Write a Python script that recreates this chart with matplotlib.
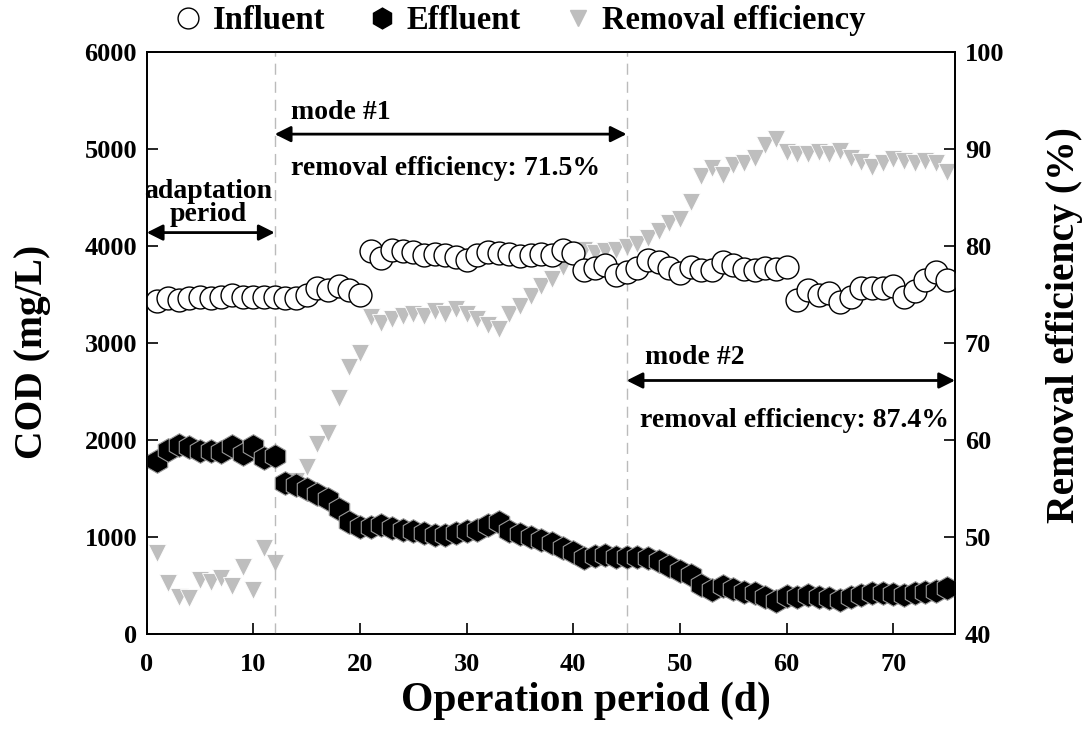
import matplotlib
matplotlib.use("Agg")
import matplotlib.pyplot as plt
from matplotlib.lines import Line2D

plt.rcParams['font.family'] = ['Liberation Serif', 'DejaVu Serif']
plt.rcParams['font.weight'] = 'bold'

days = list(range(1, 76))

influent = [3430, 3460, 3440, 3460, 3470, 3460, 3470, 3490, 3470, 3470,
            3470, 3470, 3460, 3460, 3490, 3560, 3540, 3580, 3540, 3490,
            3940, 3870, 3960, 3940, 3938, 3904, 3915, 3904, 3887, 3853,
            3904, 3938, 3928, 3915, 3894, 3904, 3915, 3904, 3955, 3928,
            3749, 3767, 3801, 3698, 3732, 3767, 3853, 3835, 3767, 3720,
            3780, 3750, 3750, 3830, 3800, 3760, 3750, 3770, 3760, 3780,
            3440, 3540, 3490, 3510, 3420, 3470, 3560, 3560, 3560, 3580,
            3470, 3530, 3650, 3730, 3650]

effluent = [1780, 1890, 1940, 1920, 1880, 1880, 1870, 1930, 1850, 1930,
            1810, 1830, 1550, 1533, 1490, 1440, 1390, 1290, 1150, 1100,
            1100, 1120, 1090, 1070, 1060, 1040, 1020, 1020, 1040, 1060,
            1070, 1120, 1150, 1060, 1030, 1000, 966, 932, 880, 845,
            777, 800, 811, 794, 794, 790, 777, 750, 700, 650,
            605, 502, 450, 490, 460, 433, 416, 381, 340, 390,
            381, 399, 381, 365, 350, 380, 400, 416, 416, 405,
            400, 416, 433, 440, 468]

removal = [48.3, 45.2, 43.8, 43.7, 45.5, 45.3, 45.7, 44.9, 46.9, 44.5,
           48.8, 47.3, 55.2, 55.7, 57.2, 59.6, 60.7, 64.3, 67.5, 68.9,
           72.6, 72.0, 72.4, 72.8, 73.0, 72.8, 73.3, 73.0, 73.5, 73.0,
           72.4, 71.8, 71.4, 73.0, 73.8, 74.8, 75.8, 76.6, 77.8, 79.0,
           79.6, 79.2, 79.4, 79.6, 79.9, 80.2, 80.8, 81.5, 82.3, 82.8,
           84.5, 87.2, 88.0, 87.3, 88.3, 88.5, 89.0, 90.4, 91.0, 89.7,
           89.5, 89.4, 89.7, 89.5, 89.8, 89.0, 88.6, 88.1, 88.5, 88.9,
           88.7, 88.5, 88.7, 88.5, 87.6]

x_ticks = [0, 10, 20, 30, 40, 50, 60, 70]
cod_ticks = [0, 1000, 2000, 3000, 4000, 5000, 6000]
re_ticks = [40, 50, 60, 70, 80, 90, 100]

fig = plt.figure(figsize=(10.87, 7.49), dpi=100)
ax = fig.add_axes([0.135, 0.154, 0.7436, 0.777])
ax2 = ax.twinx()
ax.set_zorder(ax2.get_zorder() + 1)
ax.patch.set_visible(False)

gray = '#BEBEBE'
ax2.plot(days, removal, linestyle='none', marker='v', markersize=13.5,
         markerfacecolor=gray, markeredgecolor='white', markeredgewidth=0.6)
ax.plot(days, influent, linestyle='none', marker='o', markersize=16.5,
        markerfacecolor='white', markeredgecolor='black', markeredgewidth=1.0)
ax.plot(days, effluent, linestyle='none', marker='h', markersize=17,
        markerfacecolor='black', markeredgecolor='#999999', markeredgewidth=0.8)

ax.set_xlim(0, 75.8)
ax.set_ylim(0, 6000)
ax2.set_ylim(40, 100)
ax.set_xticks(x_ticks)
ax.set_yticks(cod_ticks)
ax2.set_yticks(re_ticks)

for a in (ax, ax2):
    a.tick_params(direction='in', length=8, width=1.2, labelsize=19)
    for lab in a.get_xticklabels() + a.get_yticklabels():
        lab.set_fontweight('bold')
    for sp in a.spines.values():
        sp.set_linewidth(1.3)
ax.tick_params(axis='x', pad=14)
ax.tick_params(axis='y', pad=7)
ax2.tick_params(axis='y', pad=7)

ax.set_xlabel('Operation period (d)', fontsize=30, fontweight='bold')
ax.xaxis.set_label_coords(0.5435, -0.083)
ax.set_ylabel('COD (mg/L)', fontsize=28.5, fontweight='bold')
ax.yaxis.set_label_coords(-0.1184, 0.484)
ax2.set_ylabel('Removal efficiency (%)', fontsize=28.5, fontweight='bold')
ax2.yaxis.set_label_coords(1.112, 0.530)

for xv in (12, 45):
    ax.axvline(xv, color='#BBBBBB', linestyle=(0, (8, 5)), linewidth=1.0, zorder=0)

arrow_kw = dict(arrowstyle='<|-|>', color='black', lw=2, mutation_scale=24,
                shrinkA=0, shrinkB=0)
ax.annotate('', xy=(0, 4135), xytext=(12, 4135), arrowprops=arrow_kw)
ax.text(5.8, 4560, 'adaptation', ha='center', va='center', fontsize=20, fontweight='bold')
ax.text(5.8, 4320, 'period', ha='center', va='center', fontsize=20, fontweight='bold')

ax.annotate('', xy=(12, 5150), xytext=(45, 5150), arrowprops=arrow_kw)
ax.text(13.5, 5370, 'mode #1', ha='left', va='center', fontsize=20, fontweight='bold')
ax.text(13.5, 4800, 'removal efficiency: 71.5%', ha='left', va='center', fontsize=20, fontweight='bold')

ax.annotate('', xy=(45, 2610), xytext=(75.8, 2610), arrowprops=arrow_kw)
ax.text(46.7, 2850, 'mode #2', ha='left', va='center', fontsize=20, fontweight='bold')
ax.text(46.3, 2200, 'removal efficiency: 87.4%', ha='left', va='center', fontsize=20, fontweight='bold')

handles = [
    Line2D([], [], linestyle='none', marker='o', markersize=15,
           markerfacecolor='white', markeredgecolor='black', markeredgewidth=1.0),
    Line2D([], [], linestyle='none', marker='h', markersize=15,
           markerfacecolor='black', markeredgecolor='black'),
    Line2D([], [], linestyle='none', marker='v', markersize=12,
           markerfacecolor=gray, markeredgecolor=gray),
]
fig.legend(handles, ['Influent', 'Effluent', 'Removal efficiency'],
           loc='center', bbox_to_anchor=(0.478, 0.972), ncol=3, frameon=False,
           prop={'size': 23.5, 'weight': 'bold'}, handletextpad=0.3,
           columnspacing=1.3, handlelength=0.9)

fig.savefig('out.png', dpi=100)
